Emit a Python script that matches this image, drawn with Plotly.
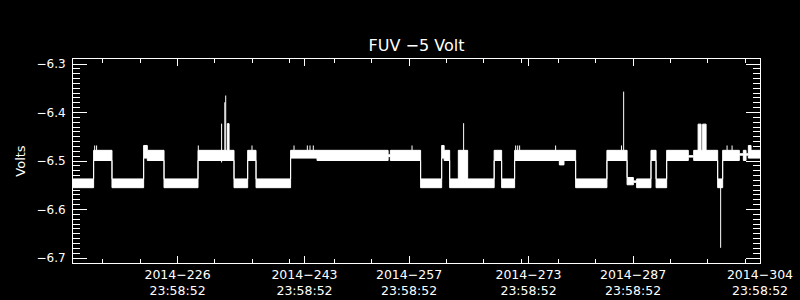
import plotly.graph_objects as go

# ---- data (day of year 2014) ----
H, HB, HB2 = -6.478, -6.499, -6.494
L, LB = -6.537, -6.555
T = -6.468

seg_start = [212.00, 214.76, 217.22, 221.46, 221.95, 224.19, 228.74, 232.67, 232.90, 233.56,
             235.39, 236.51, 241.14, 244.68, 254.20, 254.50, 258.55, 261.37, 261.70, 262.44,
             263.60, 264.85, 268.40, 269.40, 271.14, 277.13, 277.75, 279.31, 283.50, 286.20,
             287.04, 287.48, 289.40, 290.08, 291.50, 294.40, 295.12, 295.71, 296.11, 296.32,
             296.78, 298.33, 299.00, 301.23, 301.77, 302.13, 302.44, 302.80]
seg_end = seg_start[1:] + [304.00]
seg_top = [L, H, L, T, H, L, H, -6.423, H, L,
           H, L, H, H, -6.487, H, L, T, H, L,
           H, L, H, L, H, H, H, L, H, -6.534,
           -6.541, L, H, L, H, -6.489, H, -6.424, H, -6.424,
           H, L, H, -6.485, H, -6.485, T, H]
seg_bot = [LB, HB, LB, HB2, HB, LB, HB, HB, HB, LB,
           HB, LB, HB2, HB, -6.491, HB, LB, HB2, HB, LB,
           LB, LB, HB, LB, HB, -6.508, HB, LB, HB, -6.549,
           -6.544, LB, HB, LB, HB, -6.492, HB, HB, HB, HB,
           HB, LB, HB, -6.488, HB, -6.488, HB2, HB2]

spike_day = [214.90, 215.16, 228.78, 231.90, 232.33, 232.45, 235.97, 241.60, 243.38, 243.74,
             244.18, 257.40, 264.31, 271.28, 271.55, 271.81, 276.63, 285.45, 285.74, 298.73,
             299.59, 300.26]
spike_base = [H, H, H, -6.503, H, H, H, H, H, H,
              H, H, H, H, H, H, H, H, H, L,
              H, H]
spike_peak = [T, T, T, -6.423, -6.379, -6.365, T, T, T, T,
              T, T, -6.422, T, T, T, T, T, -6.357, -6.679,
              T, T]

major_days = [226, 243, 257, 273, 287, 304]
major_text = ["2014\u2212" + str(d) + "<br>23:58:52" for d in major_days]
minor_days = [216, 221, 231, 236, 241, 247, 252, 262, 267, 272, 277, 282, 292, 297, 302]
y_ticks = [-6.7, -6.6, -6.5, -6.4, -6.3]
y_text = ["\u22126.7", "\u22126.6", "\u22126.5", "\u22126.4", "\u22126.3"]

# ---- envelopes ----
x_env, y_up, y_lo = [], [], []
for s, e, t, b in zip(seg_start, seg_end, seg_top, seg_bot):
    x_env += [s, e]
    y_up += [t, t]
    y_lo += [b, b]

sx, sy = [], []
for d, b, p in zip(spike_day, spike_base, spike_peak):
    sx += [d, d, None]
    sy += [b, p, None]

fig = go.Figure()
fig.add_trace(go.Scatter(x=x_env, y=y_up, mode="lines",
                         line=dict(color="white", width=1), hoverinfo="skip"))
fig.add_trace(go.Scatter(x=x_env, y=y_lo, mode="lines", fill="tonexty",
                         fillcolor="white", line=dict(color="white", width=1),
                         hoverinfo="skip"))
fig.add_trace(go.Scatter(x=sx, y=sy, mode="lines",
                         line=dict(color="white", width=1), hoverinfo="skip"))

font = dict(family="DejaVu Sans", color="white")
fig.update_layout(
    width=800, height=300,
    paper_bgcolor="black", plot_bgcolor="black",
    margin=dict(l=73, r=40, t=59, b=37),
    showlegend=False,
    font=dict(family="DejaVu Sans", color="white", size=12),
    title=dict(text="FUV \u22125 Volt", x=0.5, xref="paper", xanchor="center",
               y=1 - 45.7 / 300, yref="container", yanchor="middle",
               font=dict(size=16, **font)),
)
fig.update_xaxes(
    range=[212, 304], showgrid=False, zeroline=False, automargin=False,
    showline=True, linecolor="white", linewidth=1, mirror="ticks",
    ticks="inside", ticklen=7, tickcolor="white", tickwidth=1,
    tickmode="array", tickvals=major_days, ticktext=major_text,
    tickfont=dict(size=12.5, **font),
    minor=dict(tickmode="array", tickvals=minor_days, ticks="inside",
               ticklen=4, tickcolor="white", tickwidth=1, showgrid=False),
)
fig.update_yaxes(
    range=[-6.7103, -6.2897], showgrid=False, zeroline=False, automargin=False,
    showline=True, linecolor="white", linewidth=1, mirror="ticks",
    ticks="inside", ticklen=14, tickcolor="white", tickwidth=1,
    tickmode="array", tickvals=y_ticks, ticktext=y_text,
    tickfont=dict(size=12, **font), ticklabelstandoff=4,
    minor=dict(dtick=0.01, tick0=-6.7, ticks="inside", ticklen=7,
               tickcolor="white", tickwidth=1, showgrid=False),
    title=dict(text="Volts", font=dict(size=13, **font), standoff=7),
)

fig.write_html("out.html")
